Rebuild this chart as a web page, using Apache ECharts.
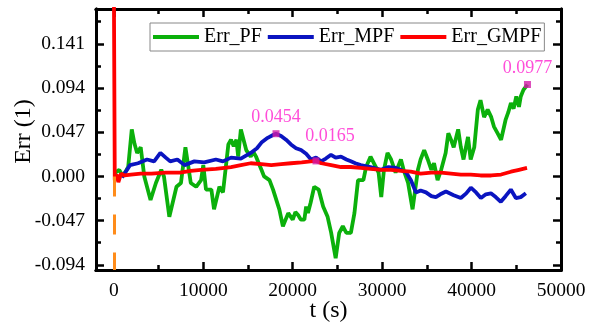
<!DOCTYPE html>
<html>
<head>
<meta charset="utf-8">
<script src="https://cdn.jsdelivr.net/npm/echarts@6/dist/echarts.min.js"></script>
<style>html,body{margin:0;padding:0;background:#fff;}#c{width:596px;height:333px;}</style>
</head>
<body>
<div id="c"></div>
<script>
// ---- data ----
const pfT = [0,600,1000,1600,2000,2300,2600,3000,3400,4100,4700,5300,5600,6200,7000,7500,8000,8600,9200,9750,10000,10300,10900,11200,11800,12200,12800,13100,13400,13700,13900,14200,14400,14800,15300,15600,15900,16500,16800,17400,17800,18500,18900,19500,20000,20300,20600,20900,21300,21500,21700,22000,22400,22900,23400,23900,24300,24800,25200,25600,26000,26500,26900,27300,27900,28200,28700,29300,29600,29900,30200,30600,31000,31500,32100,32400,32900,33400,34000,34300,34700,35100,35500,35800,36200,36600,37100,37400,37700,38000,38500,38800,39100,39600,39900,40300,40700,41000,41400,41800,42200,42500,42900,43300,43800,44100,44400,44700,45000,45300,45500,45800,46250];
const pfV = [0.003,0.007,0.000,0.010,0.050,0.035,0.025,0.031,0.000,-0.025,-0.007,0.007,0.000,-0.043,-0.011,-0.007,0.031,-0.007,-0.011,-0.004,0.012,-0.014,-0.014,-0.035,-0.011,-0.017,0.034,0.039,0.032,0.039,0.021,0.050,0.050,0.028,0.021,0.026,0.021,0.007,0.000,-0.004,-0.014,-0.035,-0.053,-0.039,-0.046,-0.038,-0.041,-0.046,-0.046,-0.032,-0.039,-0.028,-0.011,-0.014,-0.032,-0.043,-0.060,-0.087,-0.060,-0.053,-0.060,-0.060,-0.039,-0.004,-0.004,0.010,0.021,0.010,0.004,-0.022,0.007,0.025,0.018,0.004,0.018,0.007,-0.007,-0.035,0.007,0.018,0.028,0.018,0.007,0.014,-0.004,0.007,0.025,0.046,0.039,0.031,0.050,0.031,0.018,0.042,0.018,0.031,0.071,0.081,0.063,0.071,0.063,0.053,0.046,0.039,0.060,0.068,0.078,0.072,0.085,0.074,0.085,0.092,0.0977];

const mpfT = [900,1400,1800,2700,3700,4500,5200,5800,6300,7100,7900,9000,10100,11400,12200,13100,14200,15300,16000,16500,17200,17800,18130,18700,19250,19800,20370,20930,21500,22050,22600,23170,23700,24280,24800,25400,26000,26500,27000,27600,28700,29870,30700,31540,32100,32700,33220,33780,34300,34900,35500,36000,36500,37130,38000,38800,39400,39920,40500,41040,41600,42160,42700,43270,43800,44390,44950,45500,46070];
const mpfV = [-0.001,0.006,0.012,0.014,0.018,0.016,0.025,0.020,0.016,0.018,0.012,0.016,0.015,0.018,0.016,0.020,0.019,0.025,0.030,0.036,0.041,0.044,0.0454,0.043,0.039,0.034,0.030,0.028,0.024,0.018,0.020,0.016,0.019,0.023,0.020,0.021,0.018,0.016,0.014,0.012,0.010,0.007,0.010,0.009,0.007,0.004,-0.004,-0.017,-0.015,-0.017,-0.021,-0.022,-0.019,-0.016,-0.020,-0.023,-0.018,-0.012,-0.017,-0.023,-0.019,-0.018,-0.022,-0.027,-0.021,-0.014,-0.023,-0.022,-0.018];

const gmpfT = [0,100,300,500,800,1200,1900,3000,4200,5800,7400,8600,9750,11400,13100,14200,15300,16500,17600,18700,19800,21000,22000,22600,23200,24300,25400,26500,27600,28700,29900,31000,32100,33200,34300,35500,36600,37700,38800,39900,41000,42200,43300,44400,45300,46200];
const gmpfV = [0.200,-0.004,0.002,-0.006,0.003,0.001,0.002,0.003,0.003,0.004,0.004,0.006,0.007,0.008,0.010,0.012,0.014,0.013,0.012,0.013,0.014,0.015,0.016,0.0165,0.014,0.012,0.010,0.010,0.009,0.008,0.007,0.007,0.006,0.005,0.003,0.004,0.004,0.003,0.002,0.002,0.001,0.001,0.002,0.005,0.007,0.009];

const annotT = [18130, 22600, 46250];
const annotV = [0.0454, 0.0165, 0.0977];
const annotText = ['0.0454', '0.0165', '0.0977'];

const seriesNames = ['Err_PF', 'Err_MPF', 'Err_GMPF'];
const xMajor = [0, 10000, 20000, 30000, 40000, 50000];
const xMinor = [5000, 15000, 25000, 35000, 45000];
const yMajor = [-0.094, -0.047, 0, 0.047, 0.094, 0.141];
const yMinor = [-0.0705, -0.0235, 0.0235, 0.0705, 0.1175, 0.1645];
const xMin = -2000, xMax = 50000, yMin = -0.0995, yMax = 0.178;

// ---- chart ----
const font = 'Liberation Serif';
const zip = (a, b) => a.map((t, i) => [t, b[i]]);

function ax(dim, pos, ticks, len, labels) {
  const a = {
    type: 'value', position: pos,
    min: dim === 'x' ? xMin : yMin, max: dim === 'x' ? xMax : yMax,
    splitLine: { show: false },
    axisLine: { show: true, onZero: false, lineStyle: { color: '#000', width: 3 } },
    axisTick: { show: true, inside: true, length: len, customValues: ticks, lineStyle: { color: '#000', width: 2.5 } },
    axisLabel: { show: false }
  };
  if (labels) {
    a.axisLabel = {
      show: true, customValues: ticks, color: '#000', fontFamily: font, fontSize: 19.5,
      margin: 11,
      formatter: dim === 'x' ? (v => String(v)) : (v => v.toFixed(3))
    };
  }
  return a;
}

const xb = ax('x', 'bottom', xMajor, 8, true);
xb.name = 't (s)'; xb.nameLocation = 'middle'; xb.nameGap = 29; xb.nameMoveOverlap = false;
xb.nameTextStyle = { fontFamily: font, fontSize: 24, color: '#000' };
const yl = ax('y', 'left', yMajor, 8, true);
yl.name = 'Err (1)'; yl.nameLocation = 'middle'; yl.nameGap = 60; yl.nameMoveOverlap = false;
yl.nameTextStyle = { fontFamily: font, fontSize: 24, color: '#000', padding: [0, 0, 0, 16] };

const chart = echarts.init(document.getElementById('c'), null, { renderer: 'canvas' });
chart.setOption({
  animation: false,
  backgroundColor: '#fff',
  grid: { left: 96, right: 35, top: 9, bottom: 63, containLabel: false, outerBoundsMode: 'none' },
  legend: {
    data: seriesNames, left: 150, top: 23, orient: 'horizontal',
    icon: 'rect', itemWidth: 46, itemHeight: 4, itemGap: 6,
    padding: [4, 3], borderColor: '#888', borderWidth: 1, backgroundColor: '#fff',
    textStyle: { fontFamily: font, fontSize: 20, color: '#000' }
  },
  xAxis: [xb, ax('x', 'bottom', xMinor, 5, false), ax('x', 'top', xMajor, 8, false), ax('x', 'top', xMinor, 5, false)],
  yAxis: [yl, ax('y', 'left', yMinor, 5, false), ax('y', 'right', yMajor, 8, false), ax('y', 'right', yMinor, 5, false)],
  series: [
    { name: seriesNames[0], type: 'line', data: zip(pfT, pfV), showSymbol: false, symbol: 'none',
      lineStyle: { color: '#0bb00b', width: 3.8 }, itemStyle: { color: '#0bb00b' }, z: 2 },
    { name: seriesNames[1], type: 'line', data: zip(mpfT, mpfV), showSymbol: false, symbol: 'none',
      lineStyle: { color: '#0a14c0', width: 3.8 }, itemStyle: { color: '#0a14c0' }, z: 3 },
    { name: seriesNames[2], type: 'line', data: zip(gmpfT, gmpfV), showSymbol: false, symbol: 'none',
      lineStyle: { color: '#ff0000', width: 3.8 }, itemStyle: { color: '#ff0000' }, z: 4,
      markLine: { silent: true, symbol: ['none', 'none'], label: { show: false },
        lineStyle: { color: '#ff8c1a', width: 3, type: [20, 18] },
        data: [[{ coord: [0, 0] }, { coord: [0, yMin] }]] } },
    { name: 'annot', type: 'scatter', z: 5, symbol: 'rect', symbolSize: 7,
      itemStyle: { color: '#d21aa8' },
      data: annotT.map((t, i) => ({
        value: [t, annotV[i]],
        label: { show: true, formatter: annotText[i], position: 'top',
          offset: i === 1 ? [14, -8] : [0, 0],
          distance: 4, color: '#ff20d0', fontFamily: font, fontSize: 18 }
      }))
    }
  ]
});
</script>
</body>
</html>
